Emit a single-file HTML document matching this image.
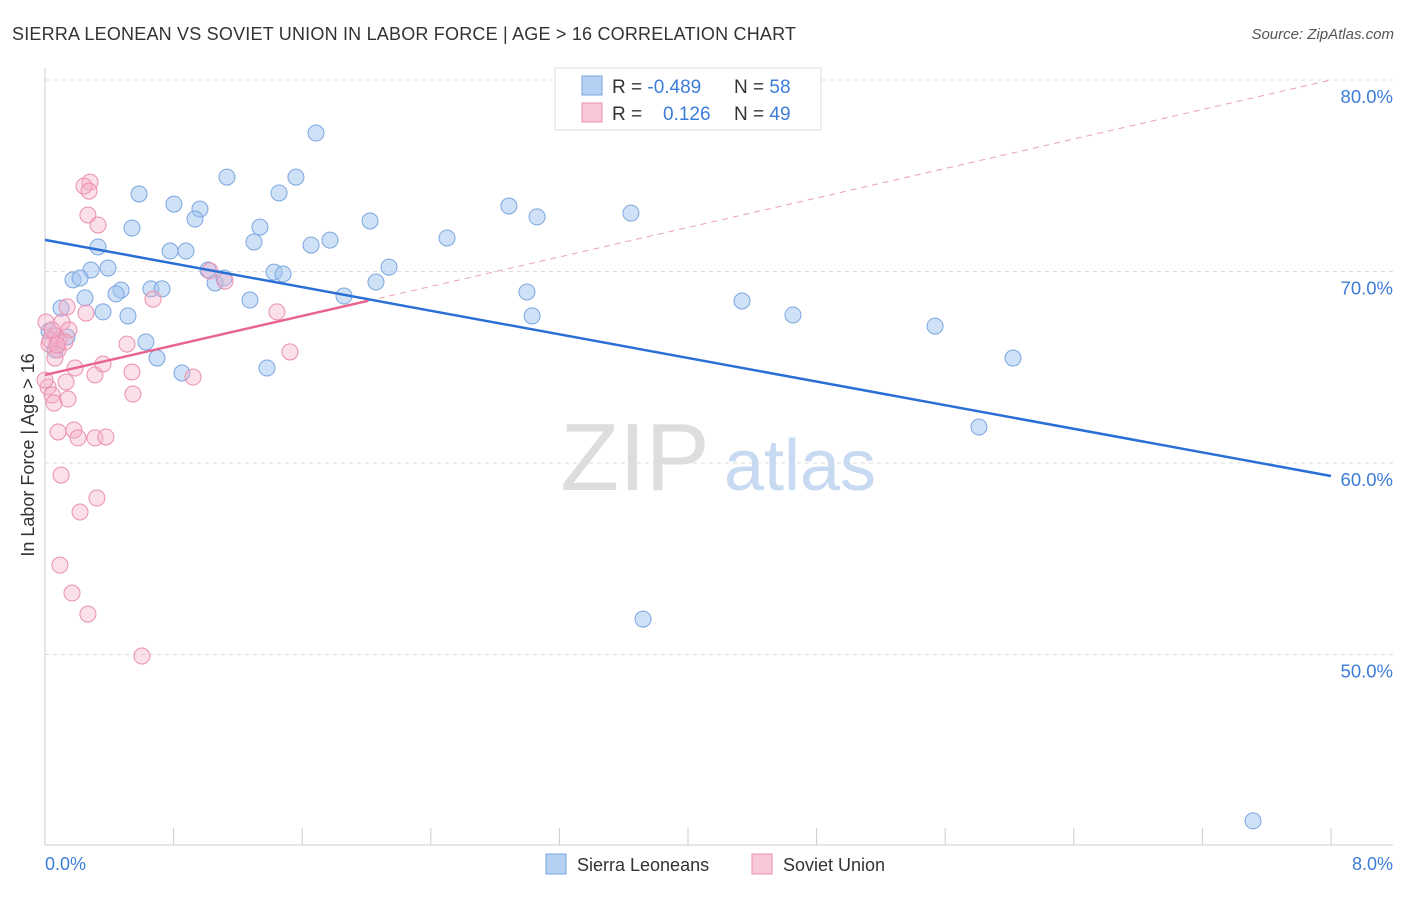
<!DOCTYPE html>
<html><head><meta charset="utf-8"><style>
body{margin:0;background:#fff;font-family:"Liberation Sans",sans-serif;}
svg text{font-family:"Liberation Sans",sans-serif;}
</style></head><body>
<svg id="chart" width="1406" height="892">
<text x="12" y="40" font-size="18" fill="#333" textLength="784">SIERRA LEONEAN VS SOVIET UNION IN LABOR FORCE | AGE &gt; 16 CORRELATION CHART</text>
<text x="1394" y="39" font-size="15" fill="#555" text-anchor="end" font-style="italic">Source: ZipAtlas.com</text>
<g id="grid"></g>
<text x="635" y="490" font-size="96" fill="#ddd" font-family="Liberation Serif" text-anchor="middle">ZIP</text>
<text x="800" y="490" font-size="72" fill="#c8d9f2" text-anchor="middle">atlas</text>
<g id="points"></g>
<g id="trends"></g>
<text transform="translate(34,455) rotate(-90)" font-size="18" fill="#333" text-anchor="middle">In Labor Force | Age &gt; 16</text>
<text x="45" y="870" font-size="18" fill="#3d7dd8">0.0%</text>
<text x="1393" y="870" font-size="18" fill="#3d7dd8" text-anchor="end">8.0%</text>
<g>
<rect x="555" y="68" width="266" height="62" fill="#fff" stroke="#ddd"/>
<rect x="582" y="76" width="20" height="19" fill="#b5d0f2" stroke="#7ba6e0"/>
<rect x="582" y="103" width="20" height="19" fill="#f8c8d8" stroke="#eb8fb0"/>
<text x="612" y="93" font-size="19" fill="#333">R = <tspan fill="#3d7dd8">-0.489</tspan></text>
<text x="734" y="93" font-size="19" fill="#333">N = <tspan fill="#3d7dd8">58</tspan></text>
<text x="612" y="120" font-size="19" fill="#333">R = <tspan fill="#3d7dd8" x="663">0.126</tspan></text>
<text x="734" y="120" font-size="19" fill="#333">N = <tspan fill="#3d7dd8">49</tspan></text>
</g>
<g>
<rect x="546" y="854" width="20" height="20" fill="#b5d0f2" stroke="#7ba6e0"/>
<text x="577" y="871" font-size="18" fill="#333">Sierra Leoneans</text>
<rect x="752" y="854" width="20" height="20" fill="#f8c8d8" stroke="#eb8fb0"/>
<text x="783" y="871" font-size="18" fill="#333">Soviet Union</text>
</g>
</svg>
<script>
const yTicks=[80,70,60,50];
const xTicks=[0.8,1.6,2.4,3.2,4.0,4.8,5.6,6.4,7.2,8.0];
const blueX=[1.686,1.132,1.561,0.585,1.456,0.802,0.964,0.933,0.541,1.337,2.022,2.886,3.061,3.645,0.330,0.778,0.877,1.300,1.655,1.773,2.501,0.286,0.392,0.174,0.218,1.014,1.425,1.481,2.140,1.058,1.114,2.059,0.473,0.442,0.659,0.728,0.249,1.275,1.860,2.998,0.100,0.361,0.516,3.030,4.336,4.653,5.537,0.025,0.137,0.628,0.697,0.852,1.381,6.022,5.810,3.720,7.515,0.062];
const blueY=[77.23,74.93,74.93,74.05,74.10,73.52,73.26,72.74,72.27,72.32,72.64,73.42,72.85,73.05,71.28,71.07,71.07,71.54,71.38,71.64,71.75,70.08,70.18,69.56,69.66,70.08,69.97,69.87,70.23,69.40,69.66,69.45,69.03,68.83,69.09,69.09,68.62,68.51,68.72,68.93,68.09,67.89,67.68,67.68,68.46,67.73,67.15,66.89,66.58,66.32,65.48,64.70,64.96,65.48,61.88,51.85,41.31,65.90];
const pinkX=[0.280,0.243,0.274,0.267,0.330,0.137,0.106,0.006,0.068,0.025,0.081,0.062,0.149,0.131,0.019,0.044,0.056,0.143,0.187,0.311,0.361,0.541,0.510,0.672,1.026,1.120,1.443,1.524,0.921,0.547,0.081,0.180,0.205,0.311,0.379,0.100,0.323,0.218,0.093,0.168,0.267,0.603,0.255,0.087,0.031,0.044,0.0,0.124,0.075];
const pinkY=[74.67,74.46,74.20,72.95,72.43,68.15,67.36,67.36,66.63,66.21,65.90,65.48,66.95,64.23,63.97,63.55,63.13,63.34,64.96,64.60,65.17,64.75,66.21,68.56,70.03,69.50,67.89,65.80,64.49,63.60,61.62,61.72,61.31,61.31,61.36,59.37,58.17,57.44,54.67,53.21,52.11,49.92,67.83,66.42,66.42,66.95,64.33,66.32,66.16];
const blueTrend=[71.65,59.32];
const pinkTrend=[64.6,80.0];
const pinkSolidEnd=2.01;
const X0=45,X1=1331,Y80=80,PX=19.15;
const sx=v=>X0+(X1-X0)*v/8;
const sy=v=>Y80+(80-v)*PX;
const NS="http://www.w3.org/2000/svg";
function mk(tag,attrs,parent){const e=document.createElementNS(NS,tag);for(const k in attrs)e.setAttribute(k,attrs[k]);parent.appendChild(e);return e;}
const grid=document.getElementById('grid');
yTicks.forEach(t=>{
 const l=mk('line',{x1:45,x2:1393,y1:sy(t),y2:sy(t),stroke:'#ddd','stroke-dasharray':'4,4'},grid);
 
 
 const tx=mk('text',{x:1393,y:sy(t)+23,'font-size':18.5,fill:'#3d7dd8','text-anchor':'end'},grid);
 tx.textContent=t.toFixed(1)+'%';
 
 
});
const ax=mk('line',{x1:45,x2:45,y1:68,y2:845,stroke:'#ccc'},grid);


const bx=mk('line',{x1:45,x2:1393,y1:845,y2:845,stroke:'#ccc'},grid);


xTicks.forEach(t=>{
 const l=mk('line',{x1:sx(t),x2:sx(t),y1:828,y2:845,stroke:'#ccc'},grid);
 
 
});
const pts=document.getElementById('points');
blueX.forEach((v,i)=>{
 const c=mk('circle',{cx:sx(v),cy:sy(blueY[i]),r:8,fill:'rgba(160,196,240,0.5)',stroke:'#7ba6e0','stroke-width':1},pts);
 
 
});
pinkX.forEach((v,i)=>{
 const c=mk('circle',{cx:sx(v),cy:sy(pinkY[i]),r:8,fill:'rgba(245,175,200,0.4)',stroke:'#eb8fb0','stroke-width':1},pts);
 
 
});
const tr=document.getElementById('trends');
const pAt=x=>pinkTrend[0]+(pinkTrend[1]-pinkTrend[0])*x/8;
const pd=mk('line',{x1:sx(pinkSolidEnd),y1:sy(pAt(pinkSolidEnd)),x2:sx(8),y2:sy(pinkTrend[1]),stroke:'#e8a0b8','stroke-width':1,'stroke-dasharray':'6,5'},tr);


const bl=mk('line',{x1:sx(0),y1:sy(blueTrend[0]),x2:sx(8),y2:sy(blueTrend[1]),stroke:'#2a6fd6','stroke-width':2.5},tr);


const pl=mk('line',{x1:sx(0),y1:sy(pinkTrend[0]),x2:sx(pinkSolidEnd),y2:sy(pAt(pinkSolidEnd)),stroke:'#e8648f','stroke-width':2.5},tr);


</script>
</body></html>
